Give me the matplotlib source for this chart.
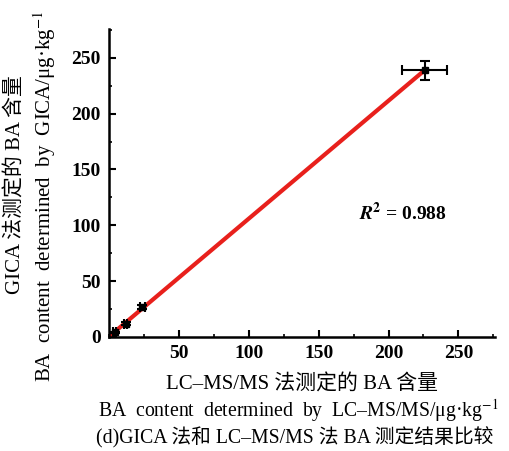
import numpy as np
import matplotlib
matplotlib.use("Agg")
import matplotlib.pyplot as plt
from matplotlib.ticker import MultipleLocator

plt.rcParams['font.family'] = ['Liberation Serif', 'Noto Sans CJK SC']
plt.rcParams['mathtext.fontset'] = 'stix'

# LC-MS/MS vs GICA results (ug/kg)
lcms = [4, 12, 24, 226]
gica = [4, 12, 27, 239]
lcms_err = [0.8, 1.0, 1.5, 16]
gica_err = [0.8, 1.0, 2.0, 8.5]
r2_text = "0.988"

x_ticks = [50, 100, 150, 200, 250]
y_ticks = [0, 50, 100, 150, 200, 250]

fig = plt.figure(figsize=(5.09, 4.51), dpi=100)
ax = fig.add_axes([0.214, 0.253, 0.758, 0.683])

# fitted line
k, b = np.polyfit(lcms, gica, 1)
xs = np.array([min(lcms) - 3, max(lcms)])
ax.plot(xs, k * xs + b, color='#e8201c', lw=3, zorder=2)

ax.errorbar(lcms, gica, xerr=lcms_err, yerr=gica_err, fmt='s', color='black',
            ms=5, elinewidth=1.5, capsize=3.5, capthick=1.5, zorder=3)

ax.set_xlim(0, 276)
ax.set_ylim(0, 276)
ax.set_xticks(x_ticks)
ax.set_yticks(y_ticks)
ax.xaxis.set_minor_locator(MultipleLocator(25))
ax.yaxis.set_minor_locator(MultipleLocator(25))
ax.tick_params(which='major', direction='in', length=5, width=1.5, labelsize=14, pad=6)
ax.tick_params(which='minor', direction='in', length=2.5, width=1.2)
for lab in ax.get_xticklabels() + ax.get_yticklabels():
    lab.set_fontweight('bold')

ax.spines['top'].set_visible(False)
ax.spines['right'].set_visible(False)
ax.spines['left'].set_linewidth(1.8)
ax.spines['bottom'].set_linewidth(1.8)

ax.text(179, 111, r"$\boldsymbol{R}^{\mathbf{2}}$" + " = " + r2_text, fontsize=14,
        fontweight='bold', va='center')

# axis titles
fs = 15
fig.text(0.03, 0.59, "GICA 法测定的 BA 含量", rotation=90, ha='center', va='center', fontsize=fs)
fig.text(0.088, 0.565, "BA  content  determined  by  GICA/μg·kg$^{-1}$", rotation=90,
         ha='center', va='center', fontsize=fs)
fig.text(0.593, 0.148, "LC–MS/MS 法测定的 BA 含量", ha='center', va='center', fontsize=fs)
fig.text(0.192, 0.090, "BA  content  determined  by  LC–MS/MS/μg·kg$^{-1}$", ha='left',
         va='center', fontsize=14.2)
fig.text(0.188, 0.029, "(d)GICA 法和 LC–MS/MS 法 BA 测定结果比较", ha='left', va='center',
         fontsize=14.2)

fig.savefig("out.png", dpi=100)
